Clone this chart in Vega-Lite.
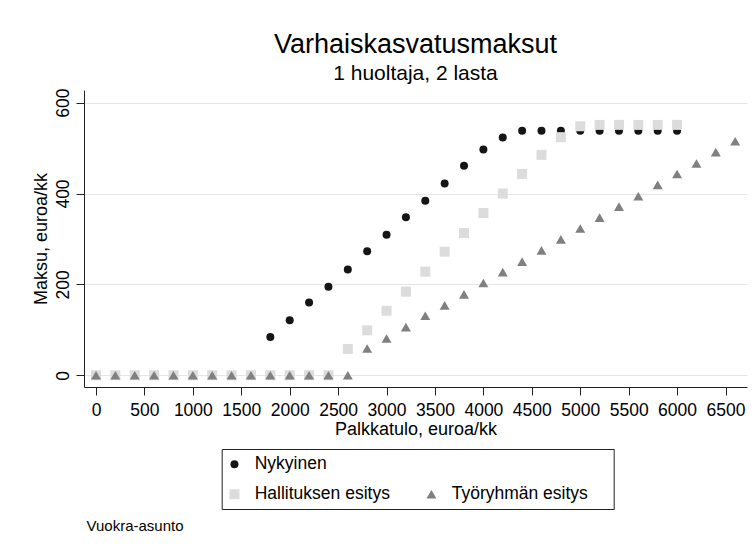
{
  "$schema": "https://vega.github.io/schema/vega-lite/v6.json",
  "width": 663,
  "height": 297,
  "autosize": "none",
  "padding": {"left": 84, "top": 90, "right": 7, "bottom": 165},
  "background": "white",
  "config": {
    "font": "Liberation Sans",
    "view": {"stroke": null}
  },
  "title": {
    "text": "Varhaiskasvatusmaksut",
    "subtitle": "1 huoltaja, 2 lasta",
    "font": "Liberation Sans",
    "subtitleFont": "Liberation Sans",
    "fontSize": 27,
    "subtitleFontSize": 21,
    "fontWeight": "normal",
    "color": "#000000",
    "subtitleColor": "#000000",
    "anchor": "middle",
    "offset": 3,
    "subtitlePadding": 4
  },
  "data": {
    "values": [
      {"x": 0, "y": 0, "series": "Nykyinen"},
      {"x": 200, "y": 0, "series": "Nykyinen"},
      {"x": 400, "y": 0, "series": "Nykyinen"},
      {"x": 600, "y": 0, "series": "Nykyinen"},
      {"x": 800, "y": 0, "series": "Nykyinen"},
      {"x": 1000, "y": 0, "series": "Nykyinen"},
      {"x": 1200, "y": 0, "series": "Nykyinen"},
      {"x": 1400, "y": 0, "series": "Nykyinen"},
      {"x": 1600, "y": 0, "series": "Nykyinen"},
      {"x": 1800, "y": 84, "series": "Nykyinen"},
      {"x": 2000, "y": 121, "series": "Nykyinen"},
      {"x": 2200, "y": 160, "series": "Nykyinen"},
      {"x": 2400, "y": 195, "series": "Nykyinen"},
      {"x": 2600, "y": 233, "series": "Nykyinen"},
      {"x": 2800, "y": 273, "series": "Nykyinen"},
      {"x": 3000, "y": 309, "series": "Nykyinen"},
      {"x": 3200, "y": 348, "series": "Nykyinen"},
      {"x": 3400, "y": 384, "series": "Nykyinen"},
      {"x": 3600, "y": 422, "series": "Nykyinen"},
      {"x": 3800, "y": 461, "series": "Nykyinen"},
      {"x": 4000, "y": 497, "series": "Nykyinen"},
      {"x": 4200, "y": 523, "series": "Nykyinen"},
      {"x": 4400, "y": 538, "series": "Nykyinen"},
      {"x": 4600, "y": 538, "series": "Nykyinen"},
      {"x": 4800, "y": 538, "series": "Nykyinen"},
      {"x": 5000, "y": 538, "series": "Nykyinen"},
      {"x": 5200, "y": 538, "series": "Nykyinen"},
      {"x": 5400, "y": 538, "series": "Nykyinen"},
      {"x": 5600, "y": 538, "series": "Nykyinen"},
      {"x": 5800, "y": 538, "series": "Nykyinen"},
      {"x": 6000, "y": 538, "series": "Nykyinen"},
      {"x": 0, "y": 0, "series": "Hallituksen esitys"},
      {"x": 200, "y": 0, "series": "Hallituksen esitys"},
      {"x": 400, "y": 0, "series": "Hallituksen esitys"},
      {"x": 600, "y": 0, "series": "Hallituksen esitys"},
      {"x": 800, "y": 0, "series": "Hallituksen esitys"},
      {"x": 1000, "y": 0, "series": "Hallituksen esitys"},
      {"x": 1200, "y": 0, "series": "Hallituksen esitys"},
      {"x": 1400, "y": 0, "series": "Hallituksen esitys"},
      {"x": 1600, "y": 0, "series": "Hallituksen esitys"},
      {"x": 1800, "y": 0, "series": "Hallituksen esitys"},
      {"x": 2000, "y": 0, "series": "Hallituksen esitys"},
      {"x": 2200, "y": 0, "series": "Hallituksen esitys"},
      {"x": 2400, "y": 0, "series": "Hallituksen esitys"},
      {"x": 2600, "y": 58, "series": "Hallituksen esitys"},
      {"x": 2800, "y": 99, "series": "Hallituksen esitys"},
      {"x": 3000, "y": 142, "series": "Hallituksen esitys"},
      {"x": 3200, "y": 184, "series": "Hallituksen esitys"},
      {"x": 3400, "y": 228, "series": "Hallituksen esitys"},
      {"x": 3600, "y": 272, "series": "Hallituksen esitys"},
      {"x": 3800, "y": 313, "series": "Hallituksen esitys"},
      {"x": 4000, "y": 357, "series": "Hallituksen esitys"},
      {"x": 4200, "y": 400, "series": "Hallituksen esitys"},
      {"x": 4400, "y": 443, "series": "Hallituksen esitys"},
      {"x": 4600, "y": 485, "series": "Hallituksen esitys"},
      {"x": 4800, "y": 524, "series": "Hallituksen esitys"},
      {"x": 5000, "y": 548, "series": "Hallituksen esitys"},
      {"x": 5200, "y": 551, "series": "Hallituksen esitys"},
      {"x": 5400, "y": 551, "series": "Hallituksen esitys"},
      {"x": 5600, "y": 551, "series": "Hallituksen esitys"},
      {"x": 5800, "y": 551, "series": "Hallituksen esitys"},
      {"x": 6000, "y": 551, "series": "Hallituksen esitys"},
      {"x": 0, "y": 0, "series": "Työryhmän esitys"},
      {"x": 200, "y": 0, "series": "Työryhmän esitys"},
      {"x": 400, "y": 0, "series": "Työryhmän esitys"},
      {"x": 600, "y": 0, "series": "Työryhmän esitys"},
      {"x": 800, "y": 0, "series": "Työryhmän esitys"},
      {"x": 1000, "y": 0, "series": "Työryhmän esitys"},
      {"x": 1200, "y": 0, "series": "Työryhmän esitys"},
      {"x": 1400, "y": 0, "series": "Työryhmän esitys"},
      {"x": 1600, "y": 0, "series": "Työryhmän esitys"},
      {"x": 1800, "y": 0, "series": "Työryhmän esitys"},
      {"x": 2000, "y": 0, "series": "Työryhmän esitys"},
      {"x": 2200, "y": 0, "series": "Työryhmän esitys"},
      {"x": 2400, "y": 0, "series": "Työryhmän esitys"},
      {"x": 2600, "y": 0, "series": "Työryhmän esitys"},
      {"x": 2800, "y": 59, "series": "Työryhmän esitys"},
      {"x": 3000, "y": 81, "series": "Työryhmän esitys"},
      {"x": 3200, "y": 106, "series": "Työryhmän esitys"},
      {"x": 3400, "y": 131, "series": "Työryhmän esitys"},
      {"x": 3600, "y": 154, "series": "Työryhmän esitys"},
      {"x": 3800, "y": 178, "series": "Työryhmän esitys"},
      {"x": 4000, "y": 203, "series": "Työryhmän esitys"},
      {"x": 4200, "y": 227, "series": "Työryhmän esitys"},
      {"x": 4400, "y": 250, "series": "Työryhmän esitys"},
      {"x": 4600, "y": 275, "series": "Työryhmän esitys"},
      {"x": 4800, "y": 299, "series": "Työryhmän esitys"},
      {"x": 5000, "y": 323, "series": "Työryhmän esitys"},
      {"x": 5200, "y": 347, "series": "Työryhmän esitys"},
      {"x": 5400, "y": 371, "series": "Työryhmän esitys"},
      {"x": 5600, "y": 394, "series": "Työryhmän esitys"},
      {"x": 5800, "y": 419, "series": "Työryhmän esitys"},
      {"x": 6000, "y": 443, "series": "Työryhmän esitys"},
      {"x": 6200, "y": 466, "series": "Työryhmän esitys"},
      {"x": 6400, "y": 491, "series": "Työryhmän esitys"},
      {"x": 6600, "y": 515, "series": "Työryhmän esitys"}
    ]
  },
  "mark": {"type": "point", "filled": true, "opacity": 1},
  "encoding": {
    "x": {
      "field": "x",
      "type": "quantitative",
      "scale": {"domain": [-124, 6722], "nice": false, "zero": false},
      "axis": {
        "title": "Palkkatulo, euroa/kk",
        "values": [0, 500, 1000, 1500, 2000, 2500, 3000, 3500, 4000, 4500, 5000, 5500, 6000, 6500],
        "format": "d",
        "grid": false,
        "domainColor": "#222222",
        "domainWidth": 1,
        "tickColor": "#222222",
        "tickSize": 8,
        "labelFont": "Liberation Sans",
        "labelFontSize": 17.5,
        "labelColor": "#000000",
        "labelBaseline": "alphabetic",
        "labelPadding": 20.5,
        "labelFlush": false,
        "labelOverlap": false,
        "titleFont": "Liberation Sans",
        "titleFontSize": 18,
        "titleFontWeight": "normal",
        "titleColor": "#000000",
        "titleBaseline": "alphabetic",
        "titleY": 47.5
      }
    },
    "y": {
      "field": "y",
      "type": "quantitative",
      "scale": {"domain": [-25.8, 627.8], "nice": false, "zero": false},
      "axis": {
        "title": "Maksu, euroa/kk",
        "values": [0, 200, 400, 600],
        "format": "d",
        "grid": true,
        "gridColor": "#e6e6e6",
        "gridWidth": 1.2,
        "domainColor": "#222222",
        "domainWidth": 1,
        "tickColor": "#222222",
        "tickSize": 8,
        "labelFont": "Liberation Sans",
        "labelFontSize": 17.5,
        "labelColor": "#000000",
        "labelAngle": 270,
        "labelAlign": "center",
        "labelBaseline": "alphabetic",
        "labelPadding": 8,
        "labelFlush": false,
        "labelOverlap": false,
        "titleFont": "Liberation Sans",
        "titleFontSize": 18,
        "titleFontWeight": "normal",
        "titleColor": "#000000",
        "titleAngle": 270,
        "titleAlign": "center",
        "titleBaseline": "alphabetic",
        "titleX": -38,
        "titleY": 148.5
      }
    },
    "color": {
      "field": "series",
      "type": "nominal",
      "scale": {
        "domain": ["Nykyinen", "Hallituksen esitys", "\u2800\u2800\u2800\u2800\u2800\u2800\u2800\u2800\u2800\u2800\u2800\u2800", "Työryhmän esitys"],
        "range": ["#151515", "#dcdcdc", "transparent", "#808080"]
      },
      "legend": {
        "title": null,
        "orient": "none",
        "legendX": 137.7,
        "legendY": 359,
        "columns": 2,
        "columnPadding": 34,
        "rowPadding": 11.5,
        "padding": 6,
        "symbolOffset": -2,
        "strokeColor": "#222222",
        "labelFont": "Liberation Sans",
        "labelFontSize": 17.5,
        "labelColor": "#000000",
        "labelOffset": 11.5,
        "labelLimit": 300
      }
    },
    "shape": {
      "field": "series",
      "type": "nominal",
      "scale": {
        "domain": ["Nykyinen", "Hallituksen esitys", "\u2800\u2800\u2800\u2800\u2800\u2800\u2800\u2800\u2800\u2800\u2800\u2800", "Työryhmän esitys"],
        "range": ["circle", "square", "circle", "triangle-up"]
      }
    },
    "size": {
      "field": "series",
      "type": "nominal",
      "scale": {
        "type": "ordinal",
        "domain": ["Nykyinen", "Hallituksen esitys", "\u2800\u2800\u2800\u2800\u2800\u2800\u2800\u2800\u2800\u2800\u2800\u2800", "Työryhmän esitys"],
        "range": [64, 100, 0, 100]
      }
    },
    "opacity": {
      "datum": "Vuokra-asunto",
      "type": "nominal",
      "scale": {"range": [1]},
      "legend": {
        "title": null,
        "orient": "none",
        "legendX": -12.5,
        "legendY": 428.5,
        "padding": 0,
        "symbolSize": 0,
        "symbolStrokeWidth": 0,
        "labelOffset": 0,
        "labelFont": "Liberation Sans",
        "labelFontSize": 15,
        "labelColor": "#000000"
      }
    }
  }
}
